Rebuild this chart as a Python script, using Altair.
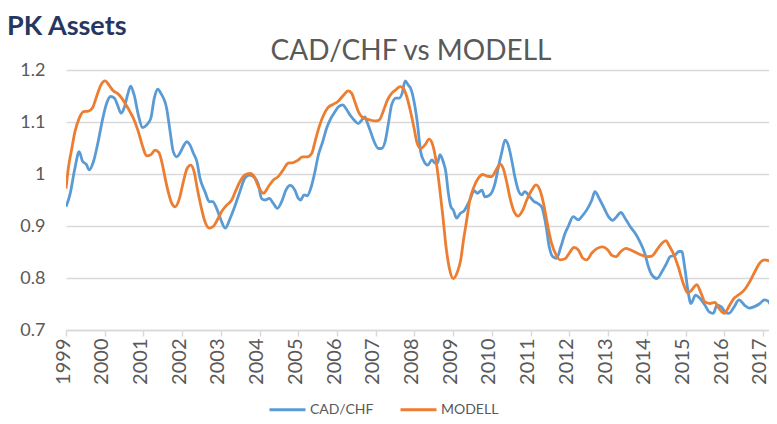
import altair as alt
import pandas as pd

# CAD/CHF (blue) - decimal years and values
cad_years = [1999.00, 1999.10, 1999.23, 1999.34, 1999.43, 1999.52, 1999.60, 1999.71, 1999.83, 1999.95,
             2000.05, 2000.15, 2000.25, 2000.33, 2000.42, 2000.51, 2000.59, 2000.67, 2000.76, 2000.87,
             2000.98, 2001.08, 2001.19, 2001.28, 2001.37, 2001.45, 2001.60, 2001.69, 2001.77, 2001.86,
             2001.94, 2002.05, 2002.12, 2002.20, 2002.29, 2002.38, 2002.46, 2002.59, 2002.70, 2002.79,
             2002.89, 2003.00, 2003.11, 2003.24, 2003.37, 2003.49, 2003.62, 2003.73, 2003.84, 2003.97,
             2004.05, 2004.14, 2004.25, 2004.35, 2004.46, 2004.57, 2004.68, 2004.79, 2004.91, 2005.00,
             2005.06, 2005.15, 2005.23, 2005.32, 2005.41, 2005.52, 2005.63, 2005.73, 2005.84, 2005.95,
             2006.03, 2006.15, 2006.23, 2006.34, 2006.44, 2006.55, 2006.64, 2006.72, 2006.77, 2006.85,
             2006.96, 2007.07, 2007.15, 2007.24, 2007.32, 2007.41, 2007.52, 2007.61, 2007.68, 2007.76,
             2007.84, 2007.90, 2007.99, 2008.07, 2008.16, 2008.25, 2008.34, 2008.45, 2008.53, 2008.59,
             2008.66, 2008.74, 2008.81, 2008.87, 2008.94, 2009.00, 2009.09, 2009.18, 2009.28, 2009.43,
             2009.54, 2009.62, 2009.74, 2009.82, 2009.95, 2010.08, 2010.17, 2010.25, 2010.34, 2010.42,
             2010.51, 2010.60, 2010.68, 2010.77, 2010.85, 2010.98, 2011.09, 2011.17, 2011.29, 2011.40,
             2011.48, 2011.57, 2011.67, 2011.78, 2011.89, 2011.97, 2012.10, 2012.23, 2012.35, 2012.45,
             2012.58, 2012.66, 2012.77, 2012.90, 2013.01, 2013.12, 2013.22, 2013.33, 2013.44, 2013.57,
             2013.70, 2013.82, 2013.95, 2014.04, 2014.13, 2014.26, 2014.39, 2014.51, 2014.60, 2014.73,
             2014.83, 2014.90, 2014.99, 2015.06, 2015.14, 2015.26, 2015.37, 2015.50, 2015.61, 2015.72,
             2015.81, 2015.92, 2016.02, 2016.12, 2016.26, 2016.38, 2016.52, 2016.64, 2016.78, 2016.92,
             2017.04, 2017.14, 2017.24, 2017.36]
cad_values = [0.937, 0.960, 1.011, 1.043, 1.024, 1.019, 1.008, 1.024, 1.062, 1.107,
              1.136, 1.149, 1.146, 1.133, 1.117, 1.129, 1.152, 1.169, 1.152, 1.113,
              1.089, 1.094, 1.107, 1.146, 1.163, 1.155, 1.126, 1.081, 1.043, 1.033,
              1.040, 1.056, 1.062, 1.056, 1.040, 1.024, 0.992, 0.966, 0.947, 0.947,
              0.934, 0.912, 0.896, 0.915, 0.940, 0.966, 0.992, 0.998, 0.995, 0.979,
              0.953, 0.950, 0.953, 0.944, 0.934, 0.947, 0.969, 0.978, 0.969, 0.953,
              0.950, 0.960, 0.958, 0.972, 0.998, 1.037, 1.062, 1.088, 1.107, 1.120,
              1.129, 1.133, 1.126, 1.113, 1.104, 1.097, 1.104, 1.110, 1.101, 1.085,
              1.062, 1.049, 1.049, 1.062, 1.094, 1.133, 1.146, 1.146, 1.155, 1.179,
              1.171, 1.165, 1.139, 1.101, 1.043, 1.024, 1.017, 1.027, 1.021, 1.021,
              1.037, 1.024, 1.004, 0.966, 0.937, 0.931, 0.915, 0.924, 0.929, 0.950,
              0.968, 0.963, 0.969, 0.956, 0.960, 0.982, 1.014, 1.040, 1.065, 1.056,
              1.027, 0.992, 0.969, 0.960, 0.966, 0.956, 0.947, 0.944, 0.936, 0.899,
              0.860, 0.841, 0.838, 0.860, 0.886, 0.899, 0.918, 0.912, 0.921, 0.931,
              0.950, 0.966, 0.953, 0.934, 0.918, 0.911, 0.918, 0.926, 0.915, 0.899,
              0.886, 0.870, 0.847, 0.822, 0.806, 0.799, 0.812, 0.828, 0.841, 0.844,
              0.851, 0.851, 0.815, 0.777, 0.751, 0.767, 0.761, 0.748, 0.735, 0.732,
              0.748, 0.745, 0.735, 0.732, 0.745, 0.758, 0.748, 0.742, 0.745, 0.751,
              0.758, 0.755, 0.742, 0.733]

# MODELL (orange)
mod_years = [1999.00, 1999.06, 1999.15, 1999.23, 1999.34, 1999.45, 1999.58, 1999.69, 1999.79, 1999.90,
             2000.01, 2000.12, 2000.22, 2000.33, 2000.44, 2000.55, 2000.65, 2000.76, 2000.87, 2000.98,
             2001.08, 2001.19, 2001.30, 2001.40, 2001.49, 2001.56, 2001.62, 2001.73, 2001.82, 2001.93,
             2002.03, 2002.13, 2002.22, 2002.31, 2002.39, 2002.48, 2002.59, 2002.70, 2002.80, 2002.91,
             2003.02, 2003.15, 2003.28, 2003.39, 2003.49, 2003.62, 2003.75, 2003.86, 2003.97, 2004.10,
             2004.23, 2004.35, 2004.48, 2004.61, 2004.74, 2004.87, 2005.00, 2005.11, 2005.23, 2005.35,
             2005.43, 2005.54, 2005.65, 2005.77, 2005.90, 2006.03, 2006.16, 2006.29, 2006.38, 2006.46,
             2006.55, 2006.64, 2006.72, 2006.85, 2006.98, 2007.09, 2007.19, 2007.30, 2007.41, 2007.52,
             2007.63, 2007.71, 2007.80, 2007.88, 2007.99, 2008.07, 2008.16, 2008.27, 2008.38, 2008.47,
             2008.56, 2008.64, 2008.73, 2008.81, 2008.90, 2009.00, 2009.11, 2009.19, 2009.27, 2009.35,
             2009.43, 2009.54, 2009.65, 2009.76, 2009.87, 2009.99, 2010.11, 2010.21, 2010.29, 2010.38,
             2010.47, 2010.57, 2010.68, 2010.80, 2010.90, 2011.03, 2011.14, 2011.24, 2011.33, 2011.43,
             2011.54, 2011.66, 2011.76, 2011.89, 2012.00, 2012.12, 2012.23, 2012.35, 2012.45, 2012.58,
             2012.72, 2012.86, 2012.98, 2013.09, 2013.20, 2013.33, 2013.46, 2013.58, 2013.72, 2013.87,
             2014.01, 2014.13, 2014.26, 2014.39, 2014.50, 2014.57, 2014.68, 2014.81, 2014.94, 2015.06,
             2015.16, 2015.29, 2015.40, 2015.50, 2015.63, 2015.76, 2015.86, 2016.00, 2016.12, 2016.23,
             2016.36, 2016.52, 2016.66, 2016.79, 2016.92, 2017.05, 2017.18, 2017.27, 2017.36]
mod_values = [0.972, 1.011, 1.049, 1.081, 1.107, 1.120, 1.121, 1.128, 1.149, 1.171,
              1.179, 1.170, 1.160, 1.155, 1.146, 1.133, 1.120, 1.104, 1.081, 1.053,
              1.035, 1.037, 1.046, 1.041, 1.018, 0.992, 0.972, 0.944, 0.937, 0.953,
              0.985, 1.011, 1.017, 1.004, 0.972, 0.940, 0.908, 0.896, 0.899, 0.912,
              0.928, 0.940, 0.950, 0.969, 0.985, 0.998, 1.001, 0.995, 0.976, 0.963,
              0.976, 0.988, 0.995, 1.008, 1.021, 1.022, 1.027, 1.033, 1.033, 1.040,
              1.062, 1.091, 1.113, 1.128, 1.134, 1.140, 1.151, 1.160, 1.155, 1.139,
              1.120, 1.110, 1.107, 1.104, 1.102, 1.104, 1.120, 1.142, 1.155, 1.162,
              1.168, 1.165, 1.149, 1.126, 1.088, 1.059, 1.049, 1.056, 1.067, 1.056,
              1.024, 0.979, 0.921, 0.863, 0.819, 0.799, 0.812, 0.833, 0.875, 0.912,
              0.950, 0.976, 0.992, 0.999, 0.996, 0.995, 1.008, 1.019, 1.011, 0.985,
              0.953, 0.928, 0.919, 0.931, 0.950, 0.969, 0.979, 0.969, 0.944, 0.905,
              0.867, 0.844, 0.835, 0.837, 0.848, 0.859, 0.854, 0.838, 0.835, 0.848,
              0.857, 0.860, 0.855, 0.844, 0.841, 0.851, 0.857, 0.854, 0.849, 0.844,
              0.841, 0.842, 0.854, 0.867, 0.872, 0.863, 0.848, 0.822, 0.790, 0.771,
              0.777, 0.787, 0.771, 0.754, 0.751, 0.753, 0.742, 0.732, 0.745, 0.759,
              0.767, 0.777, 0.793, 0.812, 0.829, 0.835, 0.833, 0.844, 0.852]

year_ticks = list(range(1999, 2018))
value_ticks = [0.7, 0.8, 0.9, 1.0, 1.1, 1.2]
series_names = ["CAD/CHF", "MODELL"]
series_colors = ["#5b9bd5", "#ed7d31"]

df = pd.concat([
    pd.DataFrame({"year": cad_years, "value": cad_values, "series": series_names[0]}),
    pd.DataFrame({"year": mod_years, "value": mod_values, "series": series_names[1]}),
], ignore_index=True)

FONT = "Lato"
GREY = "#595959"
GRID = "#d9d9d9"

x = alt.X("year:Q",
          scale=alt.Scale(domain=[1999, 2017.156], nice=False, zero=False),
          axis=alt.Axis(values=year_ticks, format="d", labelAngle=270, title=None, grid=False,
                        domainColor=GRID, domainWidth=1.5, tickColor=GRID, tickWidth=1.5, tickSize=6,
                        labelFont=FONT, labelFontSize=20, labelColor=GREY, labelPadding=2,
                        labelOffset=-3, labelFlush=False, labelOverlap=False))
y = alt.Y("value:Q",
          scale=alt.Scale(domain=[0.7, 1.2], nice=False, zero=False),
          axis=alt.Axis(values=value_ticks,
                        labelExpr="datum.value == 1 ? '1' : format(datum.value, '.1f')",
                        title=None, domain=False, ticks=False, gridColor=GRID, gridWidth=1.5,
                        labelFont=FONT, labelFontSize=18, labelColor=GREY, labelPadding=21))

lines = alt.Chart(df).mark_line(strokeWidth=2.8, interpolate="monotone", clip=True).encode(
    x=x, y=y,
    color=alt.Color("series:N",
                    scale=alt.Scale(domain=series_names, range=series_colors),
                    legend=alt.Legend(orient="none", legendX=202, legendY=320, direction="horizontal",
                                      title=None, symbolType="stroke", symbolSize=1296,
                                      symbolStrokeWidth=3, labelFont=FONT, labelFontSize=14,
                                      labelColor=GREY, columnPadding=20, labelOffset=3)),
    detail="series:N",
)

brand = alt.Chart(pd.DataFrame({"t": ["PK Assets"]})).mark_text(
    font=FONT, fontSize=27, fontWeight="bold", color="#25375f", align="left", baseline="alphabetic"
).encode(x=alt.value(-59), y=alt.value(-35), text="t:N")

title = alt.Chart(pd.DataFrame({"t": ["CAD/CHF vs MODELL"]})).mark_text(
    font=FONT, fontSize=28, color=GREY, align="center", baseline="alphabetic"
).encode(x=alt.value(345), y=alt.value(-10), text="t:N")

chart = alt.layer(lines, brand, title).properties(
    width=703, height=260,
    autosize=alt.AutoSizeParams(type="none"),
    padding={"left": 58, "top": 62, "right": 0, "bottom": 92},
).configure_view(stroke=None)

chart.save("out.html", embed_options={"renderer": "svg", "actions": False})
